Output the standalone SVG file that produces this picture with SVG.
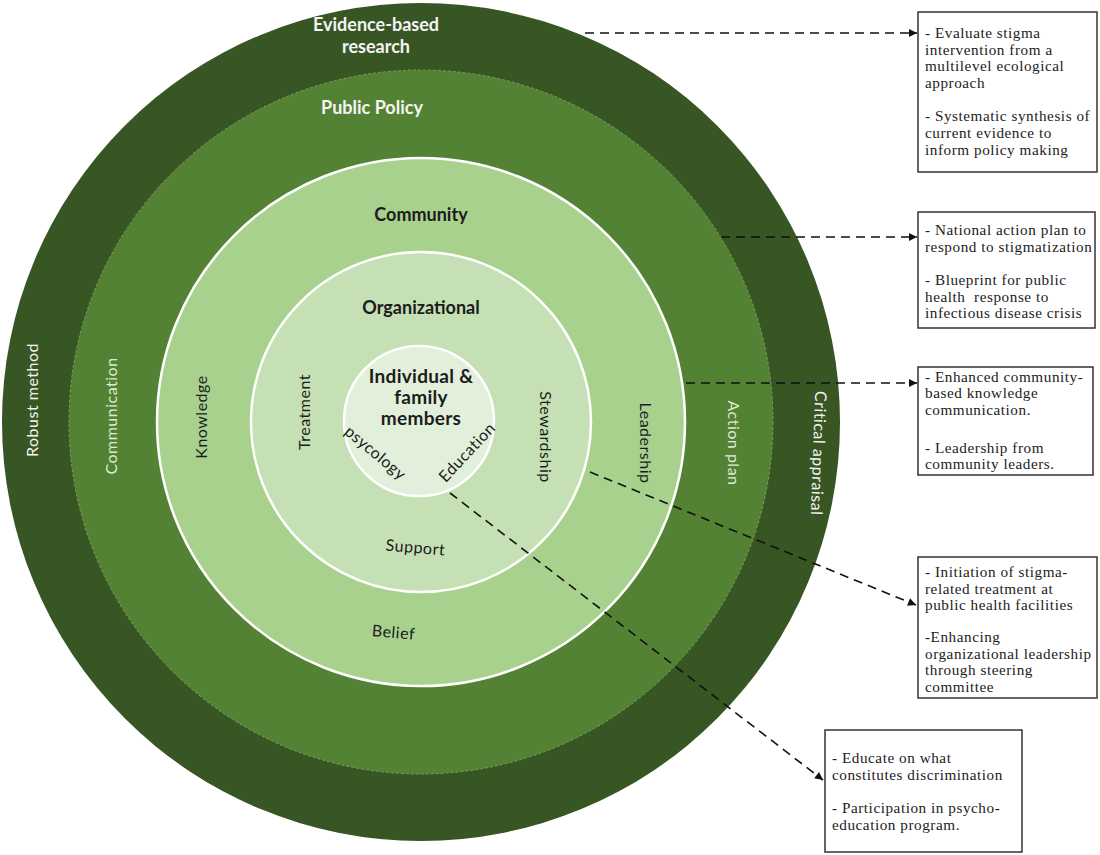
<svg xmlns="http://www.w3.org/2000/svg" width="1100" height="855" viewBox="0 0 1100 855">
<defs>
<marker id="ah" viewBox="0 0 10 10" refX="10" refY="5" markerWidth="10" markerHeight="8" markerUnits="userSpaceOnUse" orient="auto">
<path d="M0,0 L10,5 L0,10 z" fill="#111"/>
</marker>
<style>
.ring{stroke:#ffffff;stroke-width:2.5}
.lab{font-family:Lato,"Liberation Sans",sans-serif;text-anchor:middle}
.hb{font-weight:bold;font-size:18px}
.ib{font-weight:bold;font-size:19px;letter-spacing:0.3px}
.rl{font-size:16px;letter-spacing:0.5px}
.wt{fill:#f4f4f4}
.lt{fill:#dcebd2}
.dk{fill:#1c1c1c}
.box{fill:#ffffff;stroke:#333;stroke-width:1.5}
.bt{font-family:"Liberation Serif",serif;font-size:15.2px;letter-spacing:0.55px;fill:#222}
.con{fill:none;stroke:#111;stroke-width:1.6;stroke-dasharray:9,6;marker-end:url(#ah)}
</style>
</defs>
<rect width="1100" height="855" fill="#ffffff"/>
<g id="ring-evidence">
<circle cx="421" cy="422" r="419" fill="#375623"/>
<text class="lab hb wt" x="376" y="31">Evidence-based</text>
<text class="lab hb wt" x="376" y="53">research</text>
<text class="lab rl wt" transform="translate(38,400) rotate(-90)">Robust method</text>
<text class="lab rl wt" transform="translate(813,453) rotate(92)">Critical appraisal</text>
</g>
<g id="ring-policy">
<circle cx="421" cy="422" r="352" fill="#548235" stroke="#7aa05a" stroke-width="1" stroke-dasharray="3,2"/>
<text class="lab hb wt" x="372" y="114">Public Policy</text>
<text class="lab rl lt" transform="translate(117,416) rotate(-90)">Communication</text>
<text class="lab rl lt" transform="translate(728,443) rotate(90)">Action plan</text>
</g>
<g id="ring-community">
<circle class="ring" cx="421" cy="422" r="264" fill="#a9d18e"/>
<text class="lab hb dk" x="421" y="221">Community</text>
<text class="lab rl dk" transform="translate(207,417) rotate(-90)">Knowledge</text>
<text class="lab rl dk" transform="translate(640,443) rotate(90)">Leadership</text>
<text class="lab rl dk" transform="translate(393,638) rotate(5)">Belief</text>
</g>
<g id="ring-organizational">
<circle class="ring" cx="421" cy="422" r="170" fill="#c5e0b4"/>
<text class="lab hb dk" x="421" y="314">Organizational</text>
<text class="lab rl dk" transform="translate(310,412) rotate(-90)">Treatment</text>
<text class="lab rl dk" transform="translate(540,437) rotate(90)">Stewardship</text>
<text class="lab rl dk" transform="translate(415,553) rotate(5)">Support</text>
</g>
<g id="ring-individual">
<circle class="ring" cx="419" cy="421" r="75" fill="#e2efda"/>
<text class="lab ib dk" x="421" y="383">Individual &amp;</text>
<text class="lab ib dk" x="421" y="404">family</text>
<text class="lab ib dk" x="421" y="425">members</text>
<text class="lab rl dk" transform="translate(372,457) rotate(40)">psycology</text>
<text class="lab rl dk" transform="translate(471,456) rotate(-47)">Education</text>
</g>
<g id="connectors">
<line class="con" x1="585" y1="33" x2="917" y2="33"/>
<line class="con" x1="721" y1="237" x2="917" y2="237"/>
<line class="con" x1="686" y1="383" x2="917" y2="383"/>
<line class="con" x1="590" y1="472" x2="916" y2="605"/>
<line class="con" x1="450" y1="493" x2="823" y2="780"/>
</g>
<g id="box-research">
<rect class="box" x="918" y="12" width="179" height="160"/>
<text class="bt" x="925" y="38">- Evaluate stigma</text>
<text class="bt" x="925" y="55">intervention from a</text>
<text class="bt" x="925" y="71">multilevel ecological</text>
<text class="bt" x="925" y="88">approach</text>
<text class="bt" x="925" y="121">- Systematic synthesis of</text>
<text class="bt" x="925" y="138">current evidence to</text>
<text class="bt" x="925" y="155">inform policy making</text>
</g>
<g id="box-policy">
<rect class="box" x="918" y="212" width="177" height="116"/>
<text class="bt" x="925" y="235">- National action plan to</text>
<text class="bt" x="925" y="252">respond to stigmatization</text>
<text class="bt" x="925" y="285">- Blueprint for public</text>
<text class="bt" x="925" y="302" xml:space="preserve">health  response to</text>
<text class="bt" x="925" y="318">infectious disease crisis</text>
</g>
<g id="box-community">
<rect class="box" x="918" y="367" width="175" height="108"/>
<text class="bt" x="925" y="382">- Enhanced community-</text>
<text class="bt" x="925" y="398">based knowledge</text>
<text class="bt" x="925" y="415">communication.</text>
<text class="bt" x="925" y="453">- Leadership from</text>
<text class="bt" x="925" y="469">community leaders.</text>
</g>
<g id="box-organizational">
<rect class="box" x="918" y="557" width="179" height="141"/>
<text class="bt" x="925" y="577">- Initiation of stigma-</text>
<text class="bt" x="925" y="594">related treatment at</text>
<text class="bt" x="925" y="610">public health facilities</text>
<text class="bt" x="925" y="642">-Enhancing</text>
<text class="bt" x="925" y="659">organizational leadership</text>
<text class="bt" x="925" y="675">through steering</text>
<text class="bt" x="925" y="692">committee</text>
</g>
<g id="box-individual">
<rect class="box" x="825" y="730" width="197" height="122"/>
<text class="bt" x="832" y="763">- Educate on what</text>
<text class="bt" x="832" y="780">constitutes discrimination</text>
<text class="bt" x="832" y="813">- Participation in psycho-</text>
<text class="bt" x="832" y="830">education program.</text>
</g>
</svg>
